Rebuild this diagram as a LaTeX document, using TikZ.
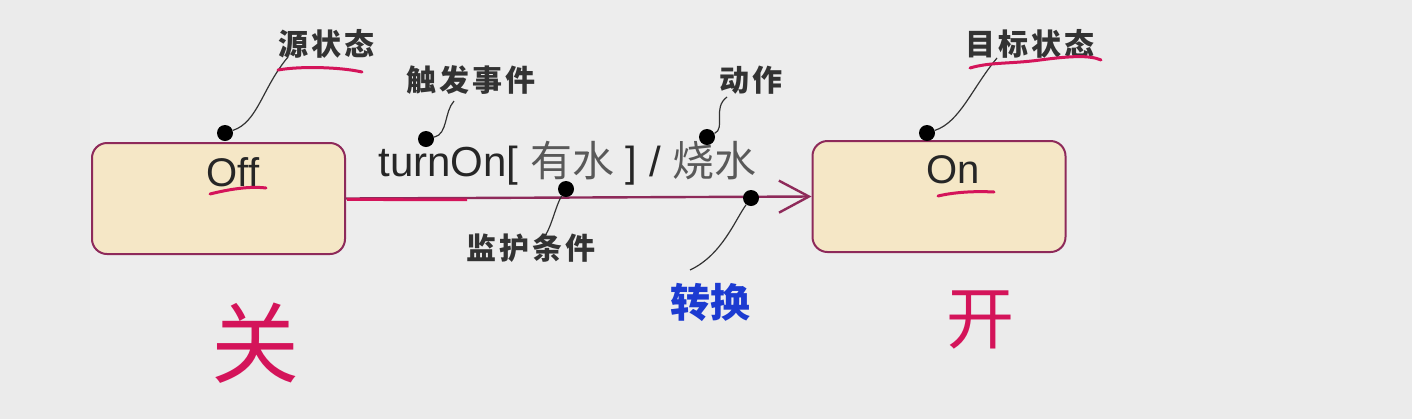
\documentclass[tikz,border=0pt]{standalone}
\usepackage{fontspec}
\setmainfont{Liberation Sans}
\newfontfamily\cjk{Noto Sans CJK SC}
\newfontfamily\cjksp[LetterSpace=10]{Noto Sans CJK SC}
\usetikzlibrary{arrows.meta}
\definecolor{bg}{HTML}{EBEBEB}
\definecolor{panel}{HTML}{EDEDED}
\definecolor{statefill}{HTML}{F5E7C6}
\definecolor{stateline}{HTML}{8E2A5A}
\definecolor{ink}{HTML}{D4145A}
\definecolor{trblue}{HTML}{1C3BD1}
\begin{document}
\begin{tikzpicture}[x=0.5pt,y=-0.5pt,
  state/.style={draw=stateline, fill=statefill, line width=1pt, rounded corners=7.5pt,
    minimum width=126.5pt, minimum height=55.5pt, inner sep=0pt},
  statetext/.style={font=\fontsize{20}{20}\selectfont, text=black!85, inner sep=0pt},
  lbl/.style={font=\cjksp\bfseries\fontsize{15}{15}\selectfont, text=black!80, inner sep=0pt},
  dotn/.style={circle, fill=black, inner sep=0pt, minimum size=8pt},
  leader/.style={draw=black!80, line width=0.6pt},
  hand/.style={draw=ink, line width=1.5pt, line cap=round},
  handchar/.style={text=ink, inner sep=0pt}
]
\fill[bg] (0,0) rectangle (1412,419);
\fill[panel] (90,0) rectangle (1100,320);
\useasboundingbox (0,0) rectangle (1412,419);

% states
\node[state] (off) at (218.5,198.5) {};
\node[state] (on) at (939,196.5) {};
\node[statetext] (offt) at (233,172) {Off};
\node[statetext] (ont) at (953,170) {On};

% transition
\draw[stateline, line width=1.2pt, -{Straight Barb[length=15pt,width=16pt,line width=1.2pt]}] (off.east) -- (on.west);
\draw[ink, line width=1.4pt] (347,199.5) -- (467,199.8);

% transition text
\node[anchor=west, inner sep=0pt, font=\fontsize{21}{21}\selectfont, text=black!85] (trig) at (378,163)
  {turnOn[ {\cjk\color{black!65}有水} ] / {\cjk\color{black!65}烧水}};

% labels
\node[lbl] (src) at (326,44) {源状态};
\node[lbl] (evt) at (471,80) {触发事件};
\node[lbl] (act) at (751,80) {动作};
\node[lbl] (grd) at (531,248) {监护条件};
\node[lbl] (tgt) at (1030,44) {目标状态};
\node[font=\cjk\bfseries\fontsize{20}{20}\selectfont, text=trblue, inner sep=0pt] (trn) at (710,302) {转换};

% leader ends
\coordinate (e1) at (288,57);
\coordinate (e2) at (454,101);
\coordinate (e3) at (545,236);
\coordinate (e4) at (727,97);
\coordinate (e5) at (690,270);
\coordinate (e6) at (997,58);

% dots
\node[dotn] (d1) at (225,133) {};
\node[dotn] (d2) at (426,139) {};
\node[dotn] (d3) at (566,189) {};
\node[dotn] (d4) at (707,137) {};
\node[dotn] (d5) at (751,198) {};
\node[dotn] (d6) at (927,133) {};

% leaders
\draw[leader] (d1) .. controls (258,122) and (262,88) .. (e1);
\draw[leader] (d2) .. controls (448,134) and (444,112) .. (e2);
\draw[leader] (d3) .. controls (556,205) and (552,225) .. (e3);
\draw[leader] (d4) .. controls (726,128) and (712,108) .. (e4);
\draw[leader] (d5) .. controls (735,220) and (722,255) .. (e5);
\draw[leader] (d6) .. controls (960,122) and (972,88) .. (e6);

% hand annotations
\draw[hand] (278,70) .. controls (300,66) and (340,67) .. (362,72);
\draw[hand] (210,194) .. controls (230,189) and (250,186) .. (266,188);
\draw[hand] (938,196) .. controls (955,192) and (975,191) .. (994,192);
\draw[hand] (970,68) .. controls (990,62) and (1010,64) .. (1040,60) .. controls (1070,56) and (1090,55) .. (1101,60);
\node[handchar, font=\cjk\fontsize{44}{44}\selectfont] (guan) at (255,343) {关};
\node[handchar, font=\cjk\fontsize{34}{34}\selectfont] (kai) at (980,320) {开};
\end{tikzpicture}
\end{document}
